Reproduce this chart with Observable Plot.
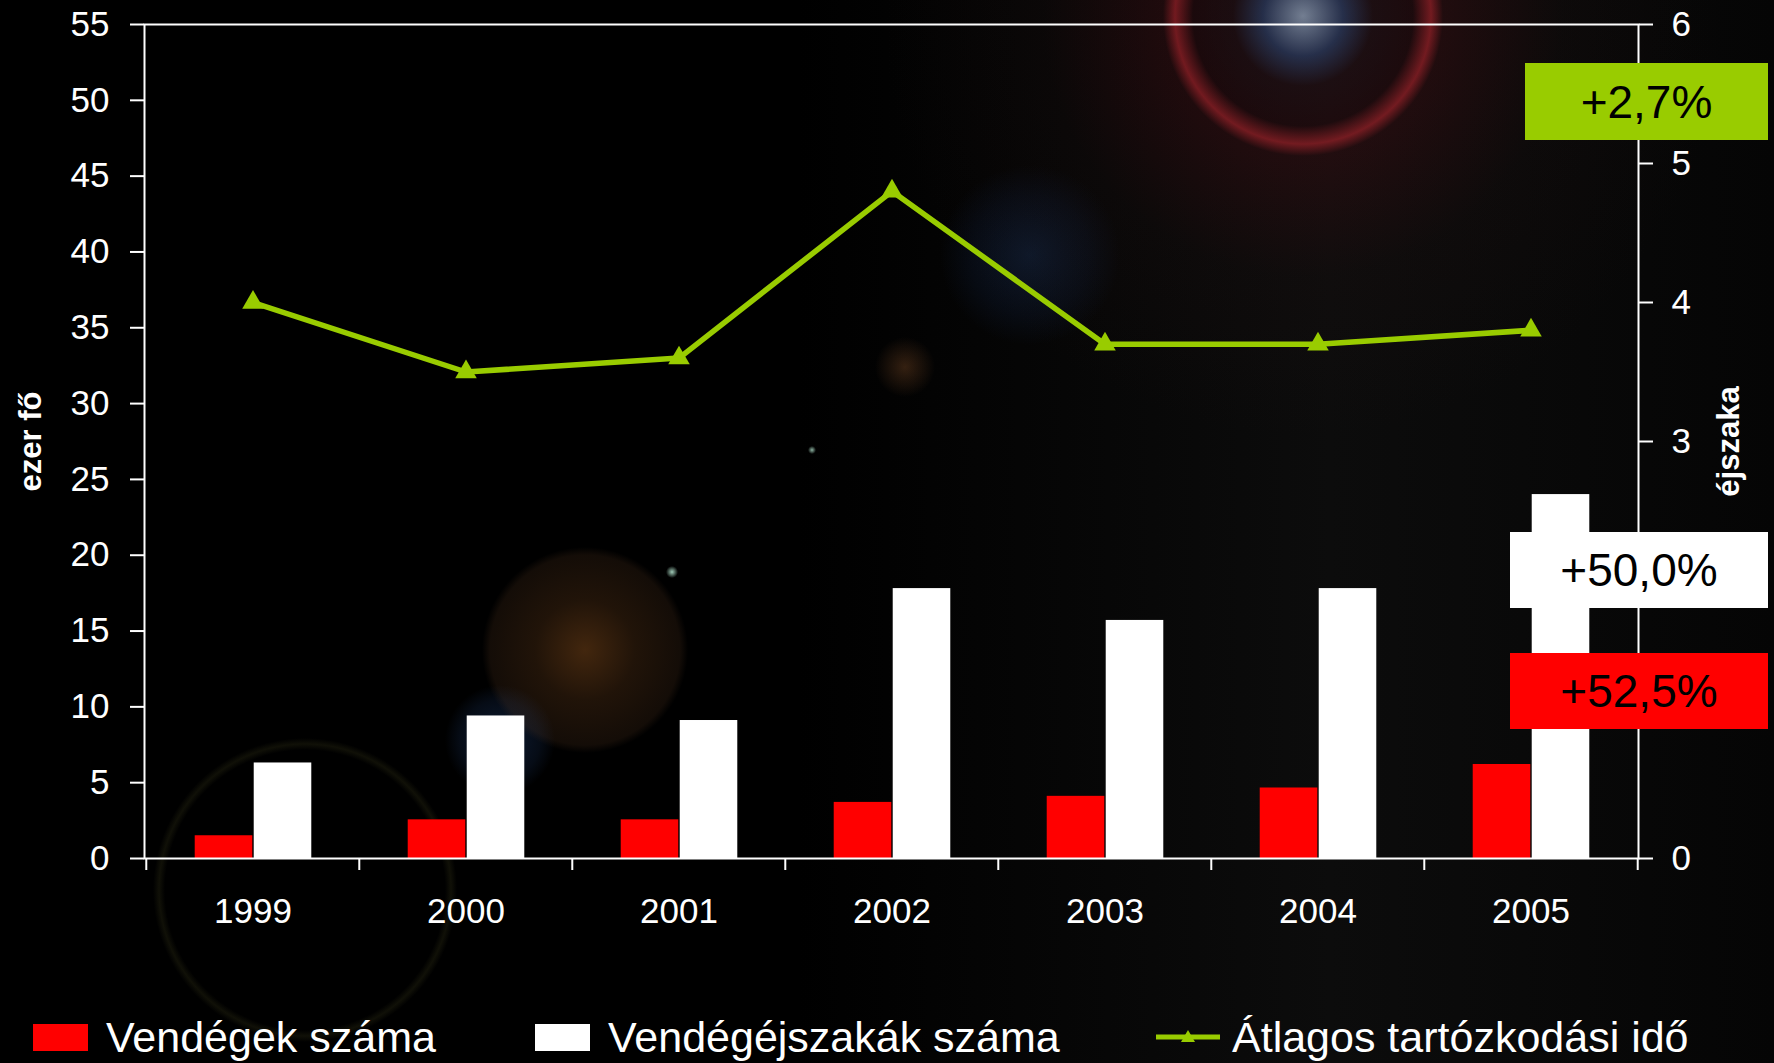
<!DOCTYPE html>
<html>
<head>
<meta charset="utf-8">
<script src="https://cdn.jsdelivr.net/npm/d3@7"></script>
<script src="https://cdn.jsdelivr.net/npm/@observablehq/plot@0.6"></script>
<style>
  html, body { margin: 0; padding: 0; }
  body {
    width: 1774px; height: 1063px; overflow: hidden; position: relative;
    font-family: "Liberation Sans", Arial, sans-serif; color: white;
    background:
      radial-gradient(circle at 1303px 16px, rgba(200,220,255,0.55) 0px, rgba(70,90,150,0.45) 40px, rgba(60,20,30,0.35) 70px, rgba(80,10,20,0.25) 110px, rgba(200,40,50,0.55) 128px, rgba(120,20,30,0.2) 140px, rgba(40,20,20,0.15) 260px, rgba(0,0,0,0) 420px),
      radial-gradient(circle at 585px 650px, rgba(190,110,40,0.35) 0px, rgba(150,90,40,0.22) 50px, rgba(110,70,40,0.18) 95px, rgba(0,0,0,0) 103px),
      radial-gradient(circle at 905px 367px, rgba(200,120,60,0.25) 0px, rgba(0,0,0,0) 30px),
      radial-gradient(circle at 1030px 255px, rgba(30,60,110,0.35) 0px, rgba(20,40,80,0.2) 60px, rgba(0,0,0,0) 90px),
      radial-gradient(circle at 500px 740px, rgba(40,80,150,0.35) 0px, rgba(30,60,110,0.2) 40px, rgba(0,0,0,0) 55px),
      radial-gradient(circle at 305px 890px, rgba(0,0,0,0) 140px, rgba(90,90,40,0.18) 146px, rgba(0,0,0,0) 152px),
      radial-gradient(circle at 672px 572px, rgba(200,255,230,0.8) 0px, rgba(0,0,0,0) 6px),
      radial-gradient(circle at 812px 450px, rgba(200,255,230,0.7) 0px, rgba(0,0,0,0) 4px),
      linear-gradient(to right, #000 0%, #000 45%, #0c0c0c 75%, #050505 100%);
  }
  #chart { position: absolute; left: 0; top: 0; }
  .note {
    position: absolute; display: flex; align-items: center; justify-content: center;
    font-size: 46px; color: #000; font-family: "Liberation Sans", Arial, sans-serif;
  }
  .legend-item { position: absolute; top: 1010px; height: 54px; display: flex; align-items: center; font-size: 43px; white-space: nowrap; }
  .swatch { width: 55px; height: 27px; margin-right: 18px; }
</style>
</head>
<body>
<div id="chart"></div>
<div id="notes"></div>
<div id="legend"></div>
<script>
// ---- data ----
const years = ["1999", "2000", "2001", "2002", "2003", "2004", "2005"];
const guests = [1.5, 2.55, 2.55, 3.7, 4.1, 4.65, 6.2];         // Vendégek száma (ezer fő)
const guestNights = [6.3, 9.4, 9.1, 17.8, 15.7, 17.8, 24.0];    // Vendégéjszakák száma (ezer)
const avgStay = [4.0, 3.5, 3.6, 4.8, 3.7, 3.7, 3.8];            // Átlagos tartózkodási idő (éjszaka)
const leftTicks = [0, 5, 10, 15, 20, 25, 30, 35, 40, 45, 50, 55];
const rightTicks = [0, 1, 2, 3, 4, 5, 6];
const rightTickLabels = ["0", "", "", "3", "4", "5", "6"];      // 1 and 2 are covered by the boxes
const seriesNames = ["Vendégek száma", "Vendégéjszakák száma", "Átlagos tartózkodási idő"];
const seriesColors = ["#ff0000", "#ffffff", "#99cc00"];
const axisTitles = ["ezer fő", "éjszaka"];
const notes = [
  {text: "+2,7%", color: "#99cc00"},
  {text: "+50,0%", color: "#ffffff"},
  {text: "+52,5%", color: "#ff0000"}
];

const leftMax = 55, rightMax = 6;
const k = leftMax / rightMax;
const rows = years.map((y, i) => ({year: y, guests: guests[i], nights: guestNights[i], stay: avgStay[i]}));

const W = 1774, H = 940, mL = 144, mR = 136, mT = 24, mB = 82;
const bw = (W - mL - mR) / years.length;
const half = bw / 2;
const barW = 58;

const chart = Plot.plot({
  width: W, height: H,
  marginLeft: mL, marginRight: mR, marginTop: mT, marginBottom: mB,
  style: {background: "transparent", color: "white", fontFamily: "'Liberation Sans', Arial, sans-serif", fontSize: "35px"},
  x: {type: "band", domain: years, paddingInner: 0, paddingOuter: 0, label: null},
  y: {domain: [0, leftMax], label: null},
  marks: [
    Plot.barY(rows, {x: "year", y: "guests", fill: seriesColors[0], insetLeft: half - barW, insetRight: half}),
    Plot.barY(rows, {x: "year", y: "nights", fill: seriesColors[1], insetLeft: half + 1, insetRight: half - barW - 1}),
    Plot.frame({stroke: "white", strokeWidth: 2}),
    Plot.axisY(leftTicks, {anchor: "left", tickSize: 14, tickPadding: 21, strokeWidth: 2, fontSize: 35, label: null, stroke: "white", fill: "white"}),
    Plot.axisY(rightTicks.map(v => v * k), {anchor: "right", tickSize: 14, tickPadding: 19, strokeWidth: 2, fontSize: 35, label: null, stroke: "white", fill: "white",
      tickFormat: d => rightTickLabels[rightTicks.indexOf(Math.round(d / k))]}),
    Plot.axisX(years, {anchor: "bottom", tickSize: 0, tickPadding: 40, fontSize: 35, label: null, fill: "white"}),
    Plot.axisX(years, {anchor: "bottom", tickSize: 12, strokeWidth: 2, stroke: "white", tickFormat: () => "", label: null, dx: -half}),
    Plot.axisX([years[years.length - 1]], {anchor: "bottom", tickSize: 12, strokeWidth: 2, stroke: "white", tickFormat: () => "", label: null, dx: half}),
    Plot.line(rows, {x: "year", y: d => d.stay * k, stroke: seriesColors[2], strokeWidth: 5.5}),
    Plot.dot(rows, {x: "year", y: d => d.stay * k, symbol: "triangle", fill: seriesColors[2], r: 8}),
    Plot.text([axisTitles[0]], {frameAnchor: "left", text: d => d, rotate: -90, textAnchor: "middle", dx: -113, fontWeight: "bold", fontSize: 31, fill: "white"}),
    Plot.text([axisTitles[1]], {frameAnchor: "right", text: d => d, rotate: -90, textAnchor: "middle", dx: 91, fontWeight: "bold", fontSize: 31, fill: "white"})
  ]
});
document.getElementById("chart").appendChild(chart);

// annotation boxes (layout overlays)
const noteBoxes = [
  {left: 1525, top: 63, width: 243, height: 77},
  {left: 1510, top: 532, width: 258, height: 76},
  {left: 1510, top: 653, width: 258, height: 76}
];
const notesEl = document.getElementById("notes");
notes.forEach((n, i) => {
  const b = noteBoxes[i];
  const d = document.createElement("div");
  d.className = "note";
  d.style.cssText = `left:${b.left}px;top:${b.top}px;width:${b.width}px;height:${b.height}px;background:${n.color};`;
  d.textContent = n.text;
  notesEl.appendChild(d);
});

// legend
const legendEl = document.getElementById("legend");
const legendLeft = [33, 535, 1156];
seriesNames.forEach((name, i) => {
  const item = document.createElement("div");
  item.className = "legend-item";
  item.style.left = legendLeft[i] + "px";
  if (i < 2) {
    const sw = document.createElement("div");
    sw.className = "swatch";
    sw.style.background = seriesColors[i];
    item.appendChild(sw);
  } else {
    const ns = "http://www.w3.org/2000/svg";
    const svg = document.createElementNS(ns, "svg");
    svg.setAttribute("width", 64); svg.setAttribute("height", 24);
    svg.style.marginRight = "12px";
    const ln = document.createElementNS(ns, "line");
    ln.setAttribute("x1", 0); ln.setAttribute("x2", 64); ln.setAttribute("y1", 12); ln.setAttribute("y2", 12);
    ln.setAttribute("stroke", seriesColors[2]); ln.setAttribute("stroke-width", 5);
    const tri = document.createElementNS(ns, "path");
    tri.setAttribute("d", "M32,5 L39,17 L25,17 Z");
    tri.setAttribute("fill", seriesColors[2]);
    svg.appendChild(ln); svg.appendChild(tri);
    item.appendChild(svg);
  }
  const t = document.createElement("span");
  t.textContent = name;
  item.appendChild(t);
  legendEl.appendChild(item);
});
</script>
</body>
</html>
